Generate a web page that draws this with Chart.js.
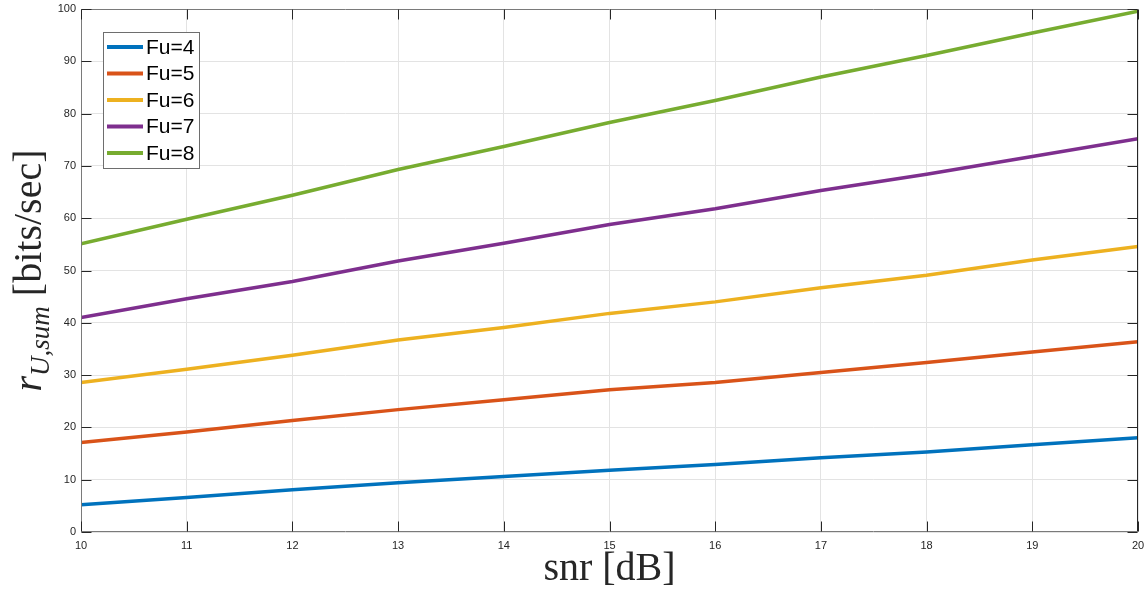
<!DOCTYPE html>
<html>
<head>
<meta charset="utf-8">
<title>Sum rate vs SNR</title>
<script src="https://cdn.jsdelivr.net/npm/chart.js@4.4.1/dist/chart.umd.min.js"></script>
<style>
  html, body { margin: 0; padding: 0; background: #fff; }
  #wrap { width: 1147px; height: 593px; position: relative; }
</style>
</head>
<body>
<div id="wrap"><canvas id="rateChart" width="1147" height="593"></canvas></div>
<script>
// snr values (dB) along the x axis
var snrDb = [10, 11, 12, 13, 14, 15, 16, 17, 18, 19, 20];

// sum rate (bits/sec) for each Fu
var rateFu4 = [5.2, 6.6, 8.1, 9.4, 10.6, 11.8, 12.9, 14.2, 15.3, 16.7, 18.0];
var rateFu5 = [17.1, 19.1, 21.3, 23.4, 25.3, 27.2, 28.6, 30.5, 32.4, 34.4, 36.4];
var rateFu6 = [28.6, 31.1, 33.8, 36.7, 39.1, 41.8, 44.0, 46.7, 49.1, 52.0, 54.6];
var rateFu7 = [41.0, 44.6, 47.9, 51.8, 55.2, 58.8, 61.8, 65.3, 68.4, 71.8, 75.2];
var rateFu8 = [55.1, 59.8, 64.4, 69.3, 73.7, 78.3, 82.5, 87.0, 91.1, 95.4, 99.6];

var seriesLabels = ['Fu=4', 'Fu=5', 'Fu=6', 'Fu=7', 'Fu=8'];
var seriesColors = ['#0072BD', '#D95319', '#EDB120', '#7E2F8E', '#77AC30'];
var seriesData = [rateFu4, rateFu5, rateFu6, rateFu7, rateFu8];

var xTicks = [10, 11, 12, 13, 14, 15, 16, 17, 18, 19, 20];
var yTicks = [0, 10, 20, 30, 40, 50, 60, 70, 80, 90, 100];

var axisInk = '#262626';

// box around the axes with inward ticks on all four sides, legend and titles
var framePlugin = {
    id: 'frame',
    afterDatasetsDraw: function(chart) {
        var ctx = chart.ctx;
        var a = chart.chartArea;
        var xs = chart.scales.x, ys = chart.scales.y;
        var L = Math.round(a.left) + 0.5, R = Math.round(a.right) - 0.5;
        var T = Math.round(a.top) + 0.5, B = Math.round(a.bottom) - 0.5;
        var tl = 10;

        ctx.save();
        ctx.lineWidth = 1;
        ctx.strokeStyle = '#7a7a7a';
        ctx.beginPath();
        ctx.moveTo(L, T); ctx.lineTo(R, T);
        ctx.moveTo(L, T); ctx.lineTo(L, B); ctx.lineTo(R, B);
        ctx.stroke();
        ctx.strokeStyle = axisInk;
        ctx.beginPath();
        ctx.moveTo(R, T); ctx.lineTo(R, B);
        ctx.stroke();

        ctx.beginPath();
        xTicks.forEach(function(v) {
            var px = Math.round(xs.getPixelForValue(v)) + 0.5;
            ctx.moveTo(px, B); ctx.lineTo(px, B - tl);
            ctx.moveTo(px, T); ctx.lineTo(px, T + tl);
        });
        yTicks.forEach(function(v) {
            var py = Math.round(ys.getPixelForValue(v)) + 0.5;
            ctx.moveTo(L, py); ctx.lineTo(L + tl, py);
            ctx.moveTo(R, py); ctx.lineTo(R - tl, py);
        });
        ctx.stroke();

        // legend
        var lx = 103.5, ly = 32.5, lw = 96, lh = 136;
        ctx.fillStyle = '#fff';
        ctx.fillRect(lx, ly, lw, lh);
        ctx.strokeStyle = '#6e6e6e';
        ctx.strokeRect(lx, ly, lw, lh);
        ctx.font = '21px "Liberation Sans", Arial, sans-serif';
        ctx.textBaseline = 'middle';
        ctx.textAlign = 'left';
        chart.data.datasets.forEach(function(ds, i) {
            var y = 47 + i * 26.5;
            ctx.strokeStyle = ds.borderColor;
            ctx.lineWidth = 4;
            ctx.beginPath();
            ctx.moveTo(107, y); ctx.lineTo(143, y);
            ctx.stroke();
            ctx.fillStyle = '#000';
            ctx.fillText(ds.label, 146, y + 1);
        });

        // x title
        ctx.fillStyle = axisInk;
        ctx.font = '40px "Liberation Serif", "DejaVu Serif", serif';
        ctx.textAlign = 'center';
        ctx.textBaseline = 'alphabetic';
        ctx.fillText('snr [dB]', (a.left + a.right) / 2, 580);

        // y title: r_{U,sum} [bits/sec], rotated
        var big = 'italic 40px "Liberation Serif", serif';
        var sub = 'italic 27px "Liberation Serif", serif';
        var up = '40px "Liberation Serif", serif';
        var parts = [
            { t: 'r', f: big, dy: 0 },
            { t: 'U,sum', f: sub, dy: 8 },
            { t: ' [bits/sec]', f: up, dy: 0 }
        ];
        var total = 0;
        parts.forEach(function(p) { ctx.font = p.f; p.w = ctx.measureText(p.t).width; total += p.w; });
        ctx.translate(41, (a.top + a.bottom) / 2);
        ctx.rotate(-Math.PI / 2);
        ctx.textAlign = 'left';
        var cx = -total / 2;
        parts.forEach(function(p) {
            ctx.font = p.f;
            ctx.fillText(p.t, cx, p.dy);
            cx += p.w;
        });
        ctx.restore();
    }
};

var ctx = document.getElementById('rateChart').getContext('2d');
var rateChart = new Chart(ctx, {
    type: 'line',
    data: {
        datasets: seriesData.map(function(vals, i) {
            return {
                label: seriesLabels[i],
                data: vals.map(function(v, j) { return { x: snrDb[j], y: v }; }),
                borderColor: seriesColors[i],
                backgroundColor: seriesColors[i],
                borderWidth: 3.5,
                pointRadius: 0,
                tension: 0,
                fill: false
            };
        })
    },
    options: {
        responsive: false,
        animation: false,
        devicePixelRatio: 1,
        layout: { padding: { left: 0, top: 9, right: 9, bottom: 0 } },
        plugins: {
            legend: { display: false },
            tooltip: { enabled: false }
        },
        scales: {
            x: {
                type: 'linear',
                min: 10,
                max: 20,
                afterFit: function(s) {
                    s.height = 61;
                    s.paddingLeft = 0; s.paddingRight = 0;
                },
                afterBuildTicks: function(s) { s.ticks = xTicks.map(function(v) { return { value: v }; }); },
                grid: { color: '#e3e3e3', drawTicks: false },
                border: { display: false },
                ticks: {
                    padding: 7,
                    color: axisInk,
                    maxRotation: 0,
                    font: { family: '"Liberation Sans", Arial, sans-serif', size: 11 }
                }
            },
            y: {
                type: 'linear',
                min: 0,
                max: 100,
                afterFit: function(s) {
                    s.width = 81;
                    s.paddingTop = 0; s.paddingBottom = 0;
                },
                afterBuildTicks: function(s) { s.ticks = yTicks.map(function(v) { return { value: v }; }); },
                grid: { color: '#e3e3e3', drawTicks: false },
                border: { display: false },
                ticks: {
                    padding: 5,
                    color: axisInk,
                    font: { family: '"Liberation Sans", Arial, sans-serif', size: 11 }
                }
            }
        }
    },
    plugins: [framePlugin]
});
</script>
</body>
</html>
